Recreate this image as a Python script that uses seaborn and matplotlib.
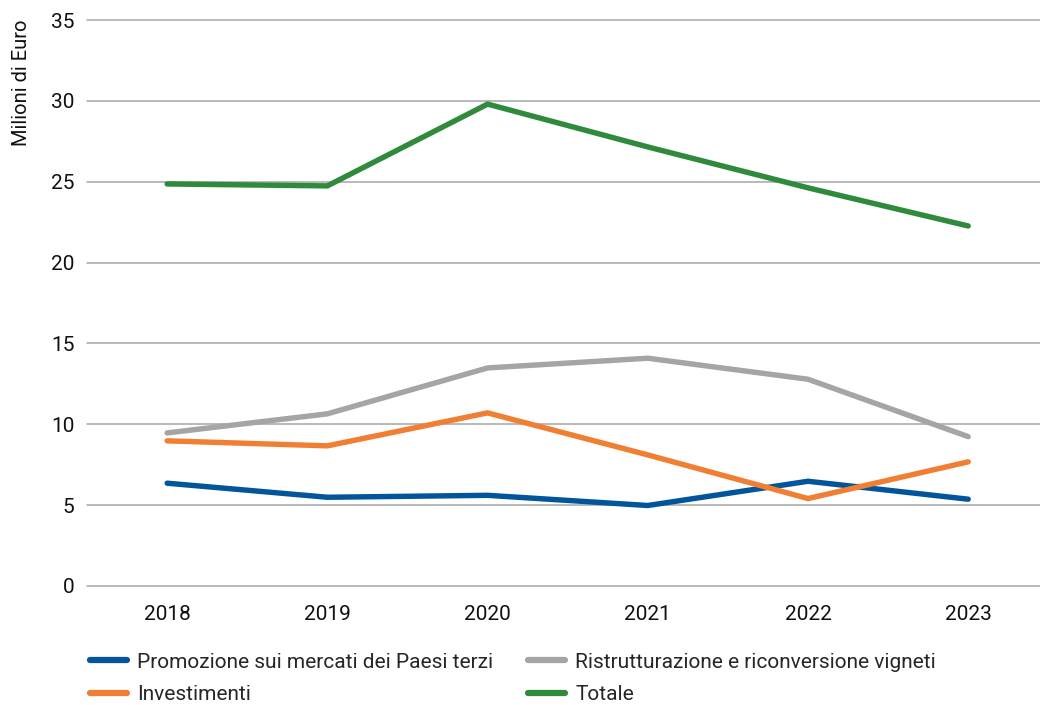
import pandas as pd
import matplotlib
matplotlib.use("Agg")
import matplotlib.pyplot as plt
import seaborn as sns
from matplotlib.lines import Line2D

# Data (milioni di euro)
anni = ["2018", "2019", "2020", "2021", "2022", "2023"]
promozione = [6.35, 5.48, 5.60, 4.97, 6.47, 5.36]
ristrutturazione = [9.46, 10.64, 13.48, 14.08, 12.78, 9.23]
investimenti = [8.97, 8.66, 10.70, 8.10, 5.40, 7.67]
totale = [24.86, 24.74, 29.80, 27.15, 24.62, 22.26]

serie = {
    "Promozione sui mercati dei Paesi terzi": promozione,
    "Ristrutturazione e riconversione vigneti": ristrutturazione,
    "Investimenti": investimenti,
    "Totale": totale,
}
colori = {
    "Promozione sui mercati dei Paesi terzi": "#02549b",
    "Ristrutturazione e riconversione vigneti": "#a5a5a5",
    "Investimenti": "#f07f33",
    "Totale": "#2f8a3b",
}

rows = []
for nome, valori in serie.items():
    for anno, v in zip(anni, valori):
        rows.append({"Anno": anno, "Valore": v, "Serie": nome})
df = pd.DataFrame(rows)

sns.set_style("white")
plt.rcParams['font.family'] = ['Roboto', 'DejaVu Sans']
FS = 15

fig, ax = plt.subplots(figsize=(10.4, 7.05), dpi=100)
fig.subplots_adjust(left=0.0837, right=1.008, bottom=0.169, top=0.9716)

sns.lineplot(data=df, x="Anno", y="Valore", hue="Serie",
             hue_order=list(serie.keys()), palette=colori,
             linewidth=3.9, sort=False, ax=ax, legend=False)
for line in ax.lines:
    line.set_solid_capstyle("round")
    line.set_solid_joinstyle("miter")

ax.set_xlim(-0.5, 5.5)
ax.set_ylim(0, 35)
ax.set_yticks(range(0, 36, 5))
ax.yaxis.grid(True, color="#a6a6a6", linewidth=1.1)
for gl in ax.get_ygridlines():
    gl.set_clip_on(False)
ax.set_axisbelow(True)
for s in ax.spines.values():
    s.set_visible(False)
ax.tick_params(axis="both", length=0, labelsize=FS, colors="#111111")
ax.tick_params(axis="y", pad=9)
ax.tick_params(axis="x", pad=14)
ax.set_xlabel("")
ax.set_ylabel("Milioni di Euro", fontsize=14.5, color="#111111")
ax.yaxis.set_label_coords(-0.058, 0.89)

# legend: row-wise order as in the reference
nomi = list(serie.keys())
ordine = [nomi[0], nomi[2], nomi[1], nomi[3]]
hs = [Line2D([0], [0], color=colori[n], linewidth=4.5, solid_capstyle="round") for n in ordine]
fig.legend(hs, ordine, loc="upper left", bbox_to_anchor=(0.0786, 0.086), ncol=2,
           frameon=False, fontsize=FS, handlelength=1.75, handletextpad=0.5,
           columnspacing=1.7, labelspacing=0.66, borderaxespad=0.0)

fig.savefig("out.png", dpi=100)
